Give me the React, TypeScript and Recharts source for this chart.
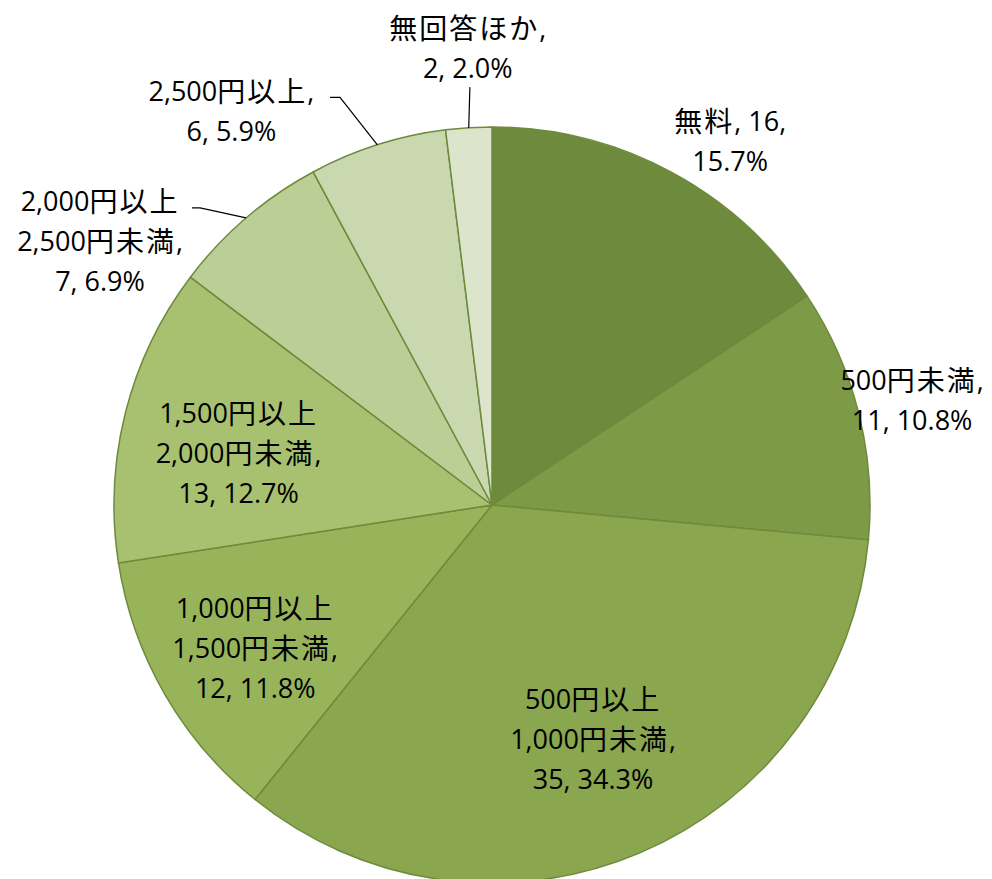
import React from "react";
import { PieChart, Pie, Cell } from "recharts";

const categories = [
  "無料",
  "500円未満",
  "500円以上\n1,000円未満",
  "1,000円以上\n1,500円未満",
  "1,500円以上\n2,000円未満",
  "2,000円以上\n2,500円未満",
  "2,500円以上",
  "無回答ほか",
];
const counts = [16, 11, 35, 12, 13, 7, 6, 2];

const colors = ["#6E8A3C", "#7D9A46", "#8AA64F", "#98B45B", "#A8C170", "#BBCE95", "#CAD8B0", "#DCE5CB"];

// label layout: distance factor of radius, angular shift (math degrees), value on first line
const labelDist = [1.153, 1.146, 0.672, 0.73, 0.685, 1.251, 1.251, 1.213];
const labelShift = [-4.9, 0, 0.5, 0.9, 2.3, 15.4, 15.8, -0.5];
const valueOnFirst = [true, false, false, false, false, false, false, false];
// leader line: elbow distance factor, elbow shift, horizontal tail length
const leaderElbowDist = [0, 0, 0, 0, 0, 1.102, 1.151, 1.107];
const leaderElbowShift = [0, 0, 0, 0, 0, 3.9, 2.8, -0.5];
const leaderTail = [0, 0, 0, 0, 0, 8, 10, 0];

const total = counts.reduce((a, b) => a + b, 0);
const data = categories.map((name, i) => ({ name, value: counts[i] }));

const RAD = Math.PI / 180;
const polar = (cx: number, cy: number, r: number, a: number) => ({
  x: cx + r * Math.cos(-a * RAD),
  y: cy + r * Math.sin(-a * RAD),
});

const FONT = "'Open Sans', 'Noto Sans CJK JP', sans-serif";
const CJK_FONT = "'Noto Sans CJK JP', sans-serif";
const LINE_H = 40;

const splitRuns = (t: string) => {
  const runs: { s: string; cjk: boolean }[] = [];
  for (const ch of t) {
    const cjk = /[\u3000-\u9fff]/.test(ch);
    const last = runs[runs.length - 1];
    if (last && last.cjk === cjk) last.s += ch;
    else runs.push({ s: ch, cjk });
  }
  return runs;
};

const renderLabel = (props: any) => {
  const { cx, cy, midAngle, outerRadius, index } = props;
  const i = index as number;
  const pct = ((counts[i] / total) * 100).toFixed(1) + "%";
  const nameLines = categories[i].split("\n");
  let lines: string[];
  if (valueOnFirst[i]) {
    lines = [nameLines.join("") + ", " + counts[i] + ",", pct];
  } else {
    const nl = nameLines.slice();
    nl[nl.length - 1] = nl[nl.length - 1] + ",";
    lines = [...nl, counts[i] + ", " + pct];
  }
  const c = polar(cx, cy, outerRadius * labelDist[i], midAngle + labelShift[i]);
  const y0 = c.y - ((lines.length - 1) * LINE_H) / 2;
  let leader: React.ReactNode = null;
  if (leaderElbowDist[i] > 0) {
    const p = polar(cx, cy, outerRadius, midAngle);
    const e = polar(cx, cy, outerRadius * leaderElbowDist[i], midAngle + leaderElbowShift[i]);
    const pts = [`${p.x},${p.y}`, `${e.x},${e.y}`];
    if (leaderTail[i] > 0) pts.push(`${e.x - leaderTail[i]},${e.y}`);
    leader = <polyline points={pts.join(" ")} fill="none" stroke="#000" strokeWidth={1.2} />;
  }
  return (
    <g key={`lbl-${i}`}>
      {leader}
      {lines.map((t, k) => (
        <text
          key={k}
          x={c.x}
          y={y0 + k * LINE_H}
          textAnchor="middle"
          dominantBaseline="central"
          fontFamily={FONT}
          fontSize={27}
          fill="#000"
        >
          {splitRuns(t).map((r, j) =>
            r.cjk ? (
              <tspan key={j} fontFamily={CJK_FONT} fontSize={28} letterSpacing={2}>
                {r.s}
              </tspan>
            ) : (
              <tspan key={j}>{r.s}</tspan>
            )
          )}
        </text>
      ))}
    </g>
  );
};

export default function App() {
  return (
    <div style={{ position: "absolute", left: 0, top: 0, width: 992, height: 879, background: "#fff" }}>
      <PieChart width={992} height={879} margin={{ top: 0, right: 0, bottom: 0, left: 0 }}>
        <Pie
          data={data}
          dataKey="value"
          nameKey="name"
          cx={492}
          cy={505}
          outerRadius={378}
          startAngle={90}
          endAngle={-270}
          stroke="#6E8A3C"
          strokeWidth={1.5}
          label={renderLabel}
          labelLine={false}
          isAnimationActive={false}
        >
          {data.map((d, i) => (
            <Cell key={d.name} fill={colors[i]} />
          ))}
        </Pie>
      </PieChart>
    </div>
  );
}
